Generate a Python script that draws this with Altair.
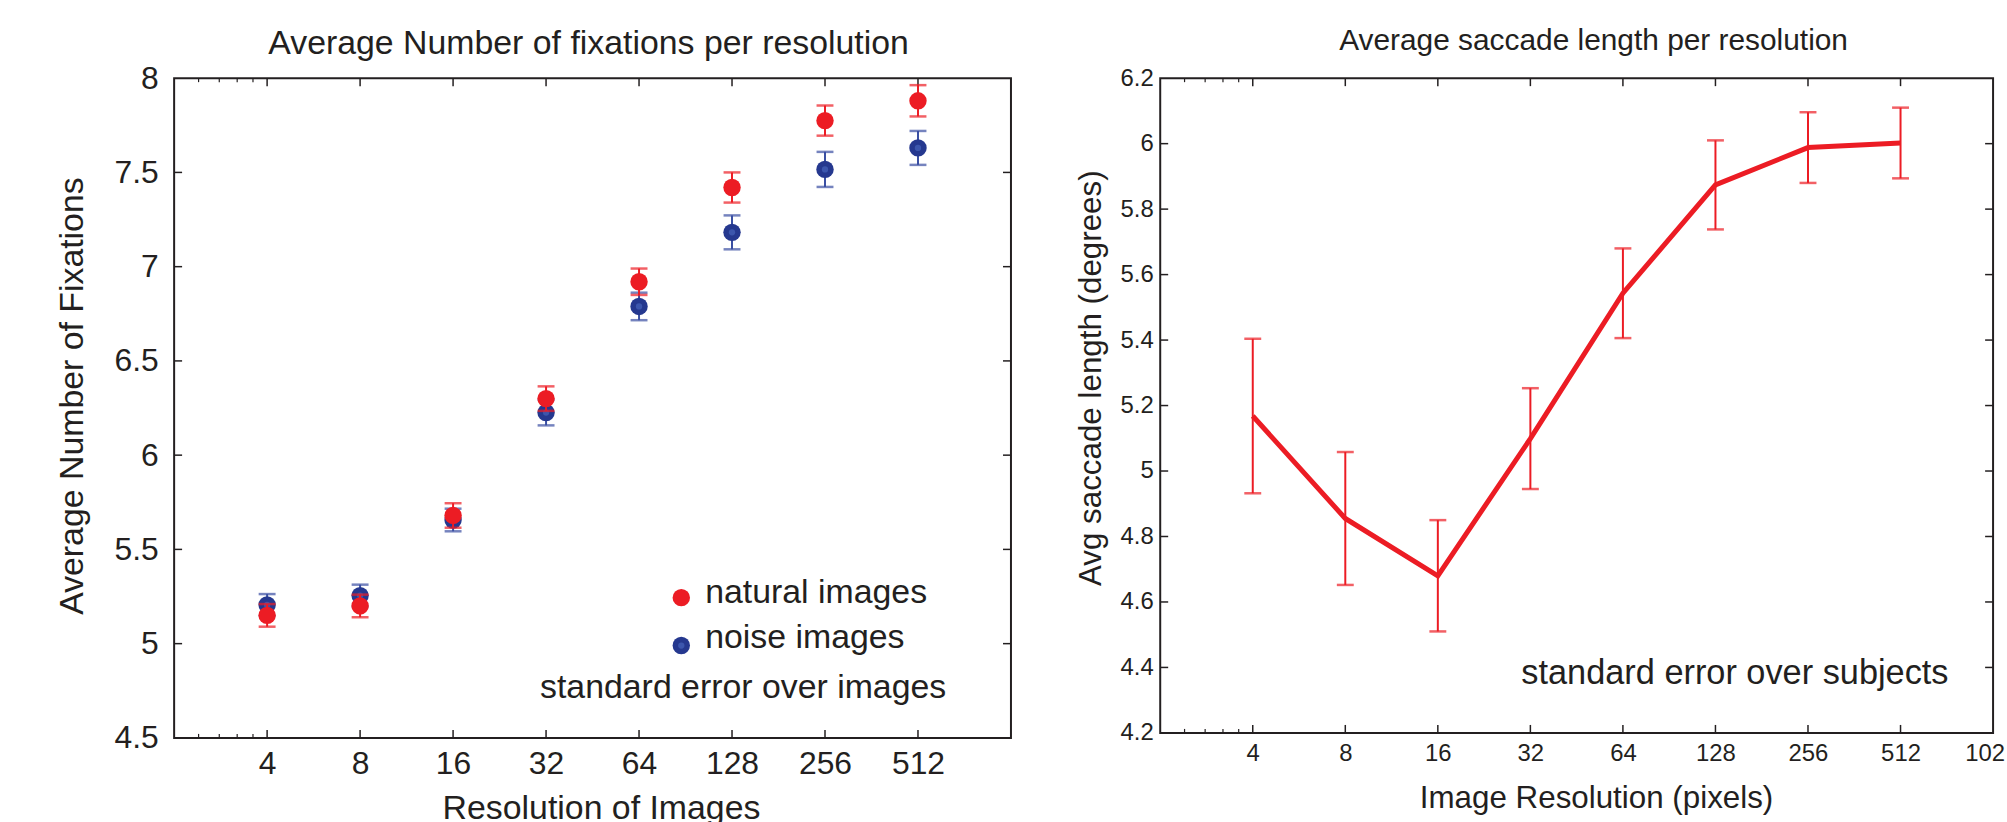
import altair as alt
import pandas as pd

# ---------------- data ----------------
resolutions = [4, 8, 16, 32, 64, 128, 256, 512]

natural_mean = [5.15, 5.20, 5.68, 6.30, 6.92, 7.42, 7.775, 7.88]
natural_err = [0.06, 0.06, 0.065, 0.065, 0.07, 0.08, 0.08, 0.083]
noise_mean = [5.205, 5.255, 5.656, 6.226, 6.789, 7.182, 7.516, 7.630]
noise_err = [0.058, 0.058, 0.06, 0.068, 0.073, 0.09, 0.093, 0.09]

saccade_mean = [5.168, 4.855, 4.680, 5.099, 5.543, 5.874, 5.988, 6.002]
saccade_err = [0.236, 0.203, 0.17, 0.154, 0.137, 0.136, 0.108, 0.108]

x_labels_left = [4, 8, 16, 32, 64, 128, 256, 512]
x_labels_right = [4, 8, 16, 32, 64, 128, 256, 512]
edge_label_right = "102"   # the "1024" label, cut by the right edge of the figure
x_major_ticks = [4, 8, 16, 32, 64, 128, 256, 512]
x_minor_ticks = [2.4, 2.8, 3.2, 3.6]
y_ticks_left = [4.5, 5, 5.5, 6, 6.5, 7, 7.5, 8]
y_ticks_right = [4.2, 4.4, 4.6, 4.8, 5.0, 5.2, 5.4, 5.6, 5.8, 6.0, 6.2]

legend_labels = ["natural images", "noise images"]
note_left = "standard error over images"
note_right = "standard error over subjects"
title_left = "Average Number of fixations per resolution"
title_right = "Average saccade length per resolution"

# ---------------- style ----------------
FONT = "Liberation Sans"
K = "#231f20"
RED = "#ec1c24"
BLUE = "#25388f"
BLUE_C = "#3c56ad"
BLUE_ERR = "#3a4fa3"

WL, HL = 841, 663
WR, HR = 837, 658

# legend / note anchors (data units)
LEG_DOT_X, LEG_TXT_X = 87.7, 104.8
LEG_DOT_Y = [5.244, 4.99]
LEG_TXT_Y = [5.218, 4.975]
NOTE_L = (30.6, 4.711)
NOTE_R = (29.9, 4.349)

scale_x = alt.Scale(type="log", base=2, domain=[2, 1024])

# ---------------- left panel ----------------
axXL = alt.Axis(values=x_labels_left, format="d", labelFontSize=32, labelPadding=11,
                labelFlush=False, labelOverlap=False, labelBound=False,
                title="Resolution of Images", titleFontSize=34, titleX=429, titleY=81,
                titleBaseline="alphabetic", titleAlign="center")
axYL = alt.Axis(values=y_ticks_left, format=".1~f", labelFontSize=32, labelPadding=16,
                labelFlush=False, labelOverlap=False,
                title="Average Number of Fixations", titleFontSize=34, titleX=-92, titleY=319,
                titleAngle=270, titleBaseline="alphabetic", titleAlign="center")
scYL = alt.Scale(domain=[4.5, 8], nice=False, zero=False)


def XL(f):
    return alt.X(f, type="quantitative", scale=scale_x, axis=axXL)


def YL(f):
    return alt.Y(f, type="quantitative", scale=scYL, axis=axYL)


def series_df(means, errs):
    return pd.DataFrame({
        "x": resolutions,
        "y": means,
        "lo": [m - e for m, e in zip(means, errs)],
        "hi": [m + e for m, e in zip(means, errs)],
    })


noise_df = series_df(noise_mean, noise_err)
natural_df = series_df(natural_mean, natural_err)


def errbars(df, color, XF, YF):
    bar = alt.Chart(df).mark_rule(color=color, strokeWidth=2).encode(
        x=XF("x"), y=YF("lo"), y2="hi")
    cap_lo = alt.Chart(df).mark_tick(color=color, orient="horizontal", size=17, thickness=2.5).encode(
        x=XF("x"), y=YF("lo"))
    cap_hi = alt.Chart(df).mark_tick(color=color, orient="horizontal", size=17, thickness=2.5).encode(
        x=XF("x"), y=YF("hi"))
    return [bar, cap_lo, cap_hi]


def ticks_layers(XF, YF, W, H, yticks):
    xt = pd.DataFrame({"x": x_major_ticks})
    xm = pd.DataFrame({"x": x_minor_ticks})
    yt = pd.DataFrame({"y": yticks[1:-1]})
    out = []
    for (y0, y1) in [(H, H - 8), (0, 8)]:
        out.append(alt.Chart(xt).mark_rule(color=K, strokeWidth=1.5).encode(
            x=XF("x"), y=alt.value(y0), y2=alt.value(y1)))
    for (y0, y1) in [(H, H - 4), (0, 4)]:
        out.append(alt.Chart(xm).mark_rule(color=K, strokeWidth=1.2).encode(
            x=XF("x"), y=alt.value(y0), y2=alt.value(y1)))
    for (x0, x1) in [(0, 8), (W, W - 8)]:
        out.append(alt.Chart(yt).mark_rule(color=K, strokeWidth=1.5).encode(
            y=YF("y"), x=alt.value(x0), x2=alt.value(x1)))
    return out


def text_layer(text, size, xpix, ypix, align="center", baseline="alphabetic"):
    return alt.Chart(pd.DataFrame({"t": [text]})).mark_text(
        align=align, baseline=baseline, fontSize=size, font=FONT, color=K
    ).encode(text="t:N", x=alt.value(xpix), y=alt.value(ypix))


leg_dots = pd.DataFrame({"x": [LEG_DOT_X] * 2, "y": LEG_DOT_Y, "s": legend_labels})
leg_text = pd.DataFrame({"x": [LEG_TXT_X] * 2, "y": LEG_TXT_Y, "t": legend_labels})
note_l_df = pd.DataFrame({"x": [NOTE_L[0]], "y": [NOTE_L[1]], "t": [note_left]})

left_layers = []
left_layers += ticks_layers(XL, YL, WL, HL, y_ticks_left)
left_layers += errbars(noise_df, BLUE_ERR, XL, YL)
left_layers.append(alt.Chart(noise_df).mark_point(filled=True, shape="circle", size=306, opacity=1,
                                                  color=BLUE).encode(x=XL("x"), y=YL("y")))
left_layers.append(alt.Chart(noise_df).mark_point(filled=True, shape="circle", size=40, opacity=1,
                                                  color=BLUE_C).encode(x=XL("x"), y=YL("y")))
left_layers += errbars(natural_df, RED, XL, YL)
left_layers.append(alt.Chart(natural_df).mark_point(filled=True, shape="circle", size=306, opacity=1,
                                                    color=RED).encode(x=XL("x"), y=YL("y")))
left_layers.append(alt.Chart(leg_dots).mark_point(filled=True, shape="circle", size=306, opacity=1).encode(
    x=XL("x"), y=YL("y"),
    color=alt.Color("s:N", scale=alt.Scale(domain=legend_labels, range=[RED, BLUE]), legend=None)))
left_layers.append(alt.Chart(leg_dots.iloc[[1]]).mark_point(filled=True, shape="circle", size=40, opacity=1,
                                                             color=BLUE_C).encode(x=XL("x"), y=YL("y")))
left_layers.append(alt.Chart(leg_text).mark_text(align="left", baseline="alphabetic", fontSize=34,
                                                 font=FONT, color=K).encode(x=XL("x"), y=YL("y"), text="t:N"))
left_layers.append(alt.Chart(note_l_df).mark_text(align="left", baseline="alphabetic", fontSize=34,
                                                  font=FONT, color=K).encode(x=XL("x"), y=YL("y"), text="t:N"))
left_layers.append(text_layer(title_left, 34, WL / 2 - 4, -24))

left = alt.layer(*left_layers).properties(width=WL, height=HL)

# ---------------- right panel ----------------
axXR = alt.Axis(values=x_labels_right, format="d", labelFontSize=24, labelPadding=9,
                labelFlush=False, labelOverlap=False, labelBound=False,
                title="Image Resolution (pixels)", titleFontSize=31.5, titleX=438, titleY=75,
                titleBaseline="alphabetic", titleAlign="center")
axYR = alt.Axis(values=y_ticks_right, format=".1~f", labelFontSize=24, labelPadding=7,
                labelFlush=False, labelOverlap=False,
                title="Avg saccade length (degrees)", titleFontSize=31.5, titleX=-60, titleY=301,
                titleAngle=270, titleBaseline="alphabetic", titleAlign="center")
scYR = alt.Scale(domain=[4.2, 6.2], nice=False, zero=False)


def XR(f):
    return alt.X(f, type="quantitative", scale=scale_x, axis=axXR)


def YR(f):
    return alt.Y(f, type="quantitative", scale=scYR, axis=axYR)


sac_df = series_df(saccade_mean, saccade_err)
note_r_df = pd.DataFrame({"x": [NOTE_R[0]], "y": [NOTE_R[1]], "t": [note_right]})

right_layers = []
right_layers += ticks_layers(XR, YR, WR, HR, y_ticks_right)
right_layers += errbars(sac_df, RED, XR, YR)
right_layers.append(alt.Chart(sac_df).mark_line(color=RED, strokeWidth=5).encode(
    x=XR("x"), y=YR("y")))
right_layers.append(alt.Chart(note_r_df).mark_text(align="left", baseline="alphabetic", fontSize=34.5,
                                                   font=FONT, color=K).encode(x=XR("x"), y=YR("y"), text="t:N"))
right_layers.append(text_layer(title_right, 30, WR / 2 + 17, -28))
right_layers.append(text_layer(edge_label_right, 24, WR - 28, HR + 9, align="left", baseline="top"))

right = alt.layer(*right_layers).properties(width=WR, height=HR)

chart = alt.hconcat(left, right, spacing=150, bounds="flush").properties(
    padding={"left": 55, "top": 23.5, "right": 0, "bottom": 0},
    background="white",
).configure_view(stroke=K, strokeWidth=2).configure_axis(
    domain=False, ticks=False, grid=False, labelColor=K, titleColor=K,
    labelFont=FONT, titleFont=FONT, titleFontWeight="normal",
).configure_text(font=FONT)

chart.save("out.html", embed_options={"renderer": "svg", "actions": False})
